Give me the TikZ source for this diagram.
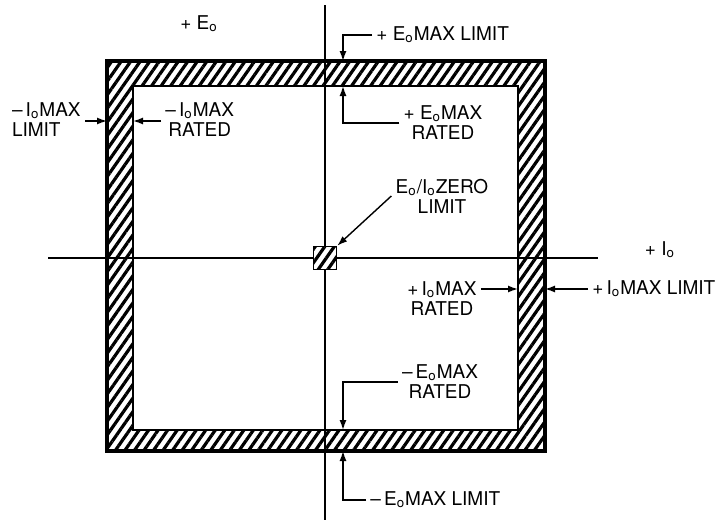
\documentclass[tikz,border=0pt]{standalone}
\usepackage{fontspec}
\setmainfont{TeX Gyre Heros}
\usetikzlibrary{arrows.meta, patterns.meta}
\newcommand{\Eo}{E\textsubscript{o}}
\newcommand{\Io}{I\textsubscript{o}}

\begin{document}
\begin{tikzpicture}[x=0.5pt, y=-0.5pt, font=\fontsize{9.5}{10}\selectfont,
  axis/.style={line width=0.7pt},
  hatch/.style={pattern={Lines[angle=55, distance=3.9pt, line width=1.6pt]}},
  lbl/.style={inner sep=2pt, align=center},
  leader/.style={line width=0.7pt, -{Latex[length=5pt, width=3.5pt]}}
]
  \useasboundingbox (0,0) rectangle (725,520);
  % ===== operating frame =====
  \path[hatch, even odd rule] (107,61) rectangle (545,451) (133,86) rectangle (518,430);
  \draw[line width=2pt]   (107,61) rectangle (545,451);
  \draw[line width=1.3pt] (133,86) rectangle (518,430);
  % ===== axes =====
  \draw[axis] (325,5) -- (325,520);   % E axis
  \draw[axis] (48,258) -- (598,258);  % I axis
  \node[draw, line width=0.8pt, fill=white, minimum size=11.5pt, inner sep=0pt,
        postaction={hatch}] (zero) at (325,258) {};
  \node (eaxis) at (199,24)  {+ \Eo};
  \node (iaxis) at (660,250) {+ \Io};
  % ===== edge points =====
  \coordinate (etop) at (343,61);   % outer top
  \coordinate (ein)  at (343,86);   % inner top
  \coordinate (ol)   at (107,121);  % outer left
  \coordinate (il)   at (133,121);  % inner left
  \coordinate (ir)   at (518,289);  % inner right
  \coordinate (orr)  at (545,289);  % outer right
  \coordinate (ebi)  at (343,430);  % inner bottom
  \coordinate (ebo)  at (343,451);  % outer bottom
  % ===== labels =====
  \node[lbl, anchor=west]         (elimt) at (372,35)  {+ \Eo MAX LIMIT};
  \node[lbl]                      (eratt) at (443,123) {+ \Eo MAX\\RATED};
  \node[lbl, anchor=east, align=left] (ilimt) at (85,120) {--\,\Io MAX\\LIMIT};
  \node[lbl, anchor=west]         (iratt) at (161,120) {--\,\Io MAX\\RATED};
  \node[lbl]                      (zlim)  at (442,196) {\Eo/\Io ZERO\\LIMIT};
  \node[lbl]                      (iratr) at (442,299) {+\,\Io MAX\\RATED};
  \node[lbl, anchor=west]         (ilimr) at (588,289) {+\,\Io MAX LIMIT};
  \node[lbl]                      (eratb) at (440,382) {--\,\Eo MAX\\RATED};
  \node[lbl, anchor=west]         (elimb) at (366,500) {--\,\Eo MAX LIMIT};
  % ===== leaders =====
  \draw[leader] (elimt.west) -| (etop);
  \draw[leader] (eratt.west) -| (ein);
  \draw[leader] (ilimt.east |- ol) -- (ol);
  \draw[leader] (iratt.west |- il) -- (il);
  \draw[leader] (zlim.west) -- (zero.north east);
  \draw[leader] (ir -| iratr.east) -- (ir);
  \draw[leader] (ilimr.west) -- (orr);
  \draw[leader] (eratb.west) -| (ebi);
  \draw[leader] (elimb.west) -| (ebo);
\end{tikzpicture}
\end{document}
